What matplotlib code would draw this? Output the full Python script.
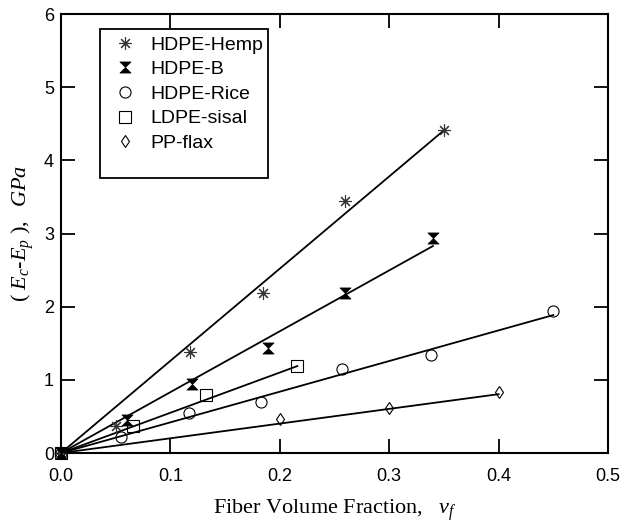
import numpy as np
import matplotlib
matplotlib.use("Agg")
import matplotlib.pyplot as plt
from matplotlib.path import Path
from matplotlib.patches import Rectangle

plt.rcParams['font.family'] = 'Liberation Sans'
plt.rcParams['mathtext.fontset'] = 'custom'
plt.rcParams['mathtext.rm'] = 'Liberation Serif'
plt.rcParams['mathtext.it'] = 'Liberation Serif:italic'

# data
hemp_x = [0.0, 0.050, 0.118, 0.185, 0.260, 0.350]
hemp_y = [0.0, 0.37, 1.38, 2.19, 3.44, 4.42]
hdpeb_x = [0.0, 0.060, 0.120, 0.189, 0.260, 0.340]
hdpeb_y = [0.0, 0.45, 0.94, 1.43, 2.19, 2.94]
rice_x = [0.0, 0.055, 0.117, 0.183, 0.257, 0.338, 0.450]
rice_y = [0.0, 0.22, 0.55, 0.70, 1.15, 1.34, 1.94]
sisal_x = [0.0, 0.066, 0.1325, 0.216]
sisal_y = [0.0, 0.37, 0.79, 1.19]
flax_x = [0.0, 0.200, 0.300, 0.400]
flax_y = [0.0, 0.46, 0.61, 0.83]

# fitted lines through origin: slope, end of line
fit_slope = [12.6, 8.32, 4.19, 5.5, 2.01]
fit_end = [0.349, 0.340, 0.450, 0.216, 0.400]

labels = ['HDPE-Hemp', 'HDPE-B', 'HDPE-Rice', 'LDPE-sisal', 'PP-flax']

bowtie = Path([(-1, 1), (1, 1), (-1, -1), (1, -1), (-1, 1)],
              [Path.MOVETO, Path.LINETO, Path.LINETO, Path.LINETO, Path.CLOSEPOLY])

fig = plt.figure(figsize=(6.21, 5.23), dpi=100)
ax = fig.add_axes([61/621, 1 - 453/523, 547/621, 439/523])

series = [(hemp_x, hemp_y), (hdpeb_x, hdpeb_y), (rice_x, rice_y),
          (sisal_x, sisal_y), (flax_x, flax_y)]
styles = [
    dict(marker=(8, 2, 0), ms=9, mfc='none', mec='#333333', mew=0.8),
    dict(marker=bowtie, ms=8, mfc='black', mec='black', mew=0.5),
    dict(marker='o', ms=8, mfc='none', mec='black', mew=0.8),
    dict(marker='s', ms=8, mfc='none', mec='black', mew=0.8),
    dict(marker='d', ms=6, mfc='none', mec='black', mew=0.8),
]

for (xs, ys), st, lab, k, xe in zip(series, styles, labels, fit_slope, fit_end):
    ax.plot(xs, ys, ls='none', label=lab, clip_on=False, zorder=3, **st)
    lx = np.array([0.0, xe])
    ax.plot(lx, k * lx, color='black', lw=1.3, zorder=2)

ax.set_xlim(0, 0.5)
ax.set_ylim(0, 6)
ax.set_xticks([0.0, 0.1, 0.2, 0.3, 0.4, 0.5])
ax.set_xticklabels(['0.0', '0.1', '0.2', '0.3', '0.4', '0.5'])
ax.set_yticks([0, 1, 2, 3, 4, 5, 6])
ax.tick_params(direction='in', length=10, width=1.3, labelsize=13,
               top=True, right=True)
ax.tick_params(axis='x', pad=11)
ax.tick_params(axis='y', pad=5)
for sp in ax.spines.values():
    sp.set_linewidth(1.5)

ax.set_xlabel(r'Fiber Volume Fraction,  $\ v_f$', family='Liberation Serif',
              fontsize=16, labelpad=9)
ax.set_ylabel(r'$(\ E_c$-$E_p\ ),\ \ GPa$', family='Liberation Serif',
              fontsize=16, labelpad=6)

# legend box is larger than its entries
ax.add_patch(Rectangle((39/547, 1 - 178/439 + 14/439), 168/547, 149/439,
                       transform=ax.transAxes, fill=False, ec='black',
                       lw=1.3, zorder=4))
leg = ax.legend(loc='upper left', bbox_to_anchor=(54/547, 1 - 22/439),
                fontsize=14, frameon=False, borderpad=0, labelspacing=0.36,
                handletextpad=0.8, borderaxespad=0, handlelength=1.0)

fig.savefig('out.png', dpi=100)
